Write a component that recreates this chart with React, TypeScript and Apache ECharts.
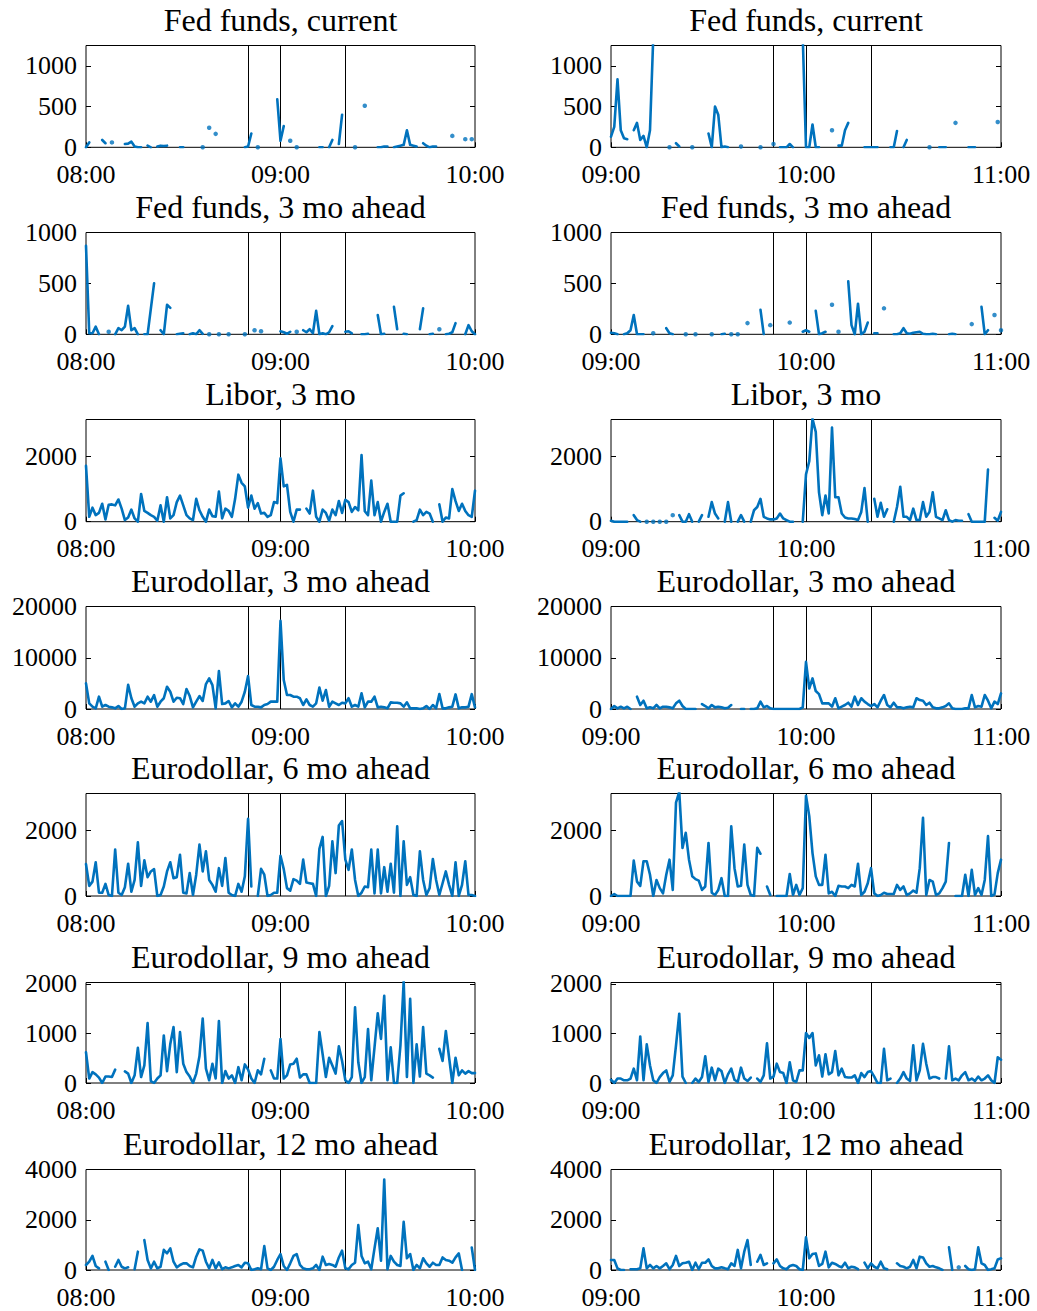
import { useEffect, useRef } from 'react';
import * as echarts from 'echarts';

// Trading volume per minute around announcement times, two windows per contract.
const _ = null;

const TITLES = [
  'Fed funds, current',
  'Fed funds, 3 mo ahead',
  'Libor, 3 mo',
  'Eurodollar, 3 mo ahead',
  'Eurodollar, 6 mo ahead',
  'Eurodollar, 9 mo ahead',
  'Eurodollar, 12 mo ahead',
];
const Y_MAX = [1250, 1000, 3130, 20000, 3130, 2030, 4000];
const Y_STEP = [500, 500, 2000, 10000, 2000, 1000, 2000];
const START_HOURS = [8, 9];
const EVENT_MINUTES = [50, 60, 80];

// minute 0..120 after the window start
const fedCurrentEarly = [
  0, 60, _, _, _, 90, 50, _, 60, _,
  _, _, 40, 45, 70, 10, 0, 0, _, 20,
  0, _, 10, 20, 15, 20, _, _, _, 0,
  0, _, _, _, _, _, 0, _, 240, _,
  165, _, _, _, _, _, _, _, _, 0,
  10, 170, _, 0, _, _, _, _, _, 590,
  80, 260, _, 80, _, 0, _, _, _, _,
  _, _, 0, 0, _, 0, 90, _, 40, 400,
  _, _, _, 0, _, _, 510, _, _, _,
  0, 0, 10, 10, _, 0, 10, 20, 30, 210,
  30, 20, 10, _, 50, 20, 0, 10, 10, _,
  _, _, _, 140, _, _, _, 100, _, 100,
  _,
];
const fedCurrentLate = [
  130, 250, 835, 210, 110, 100, _, 210, 300, 90,
  140, 0, 210, 1350, _, _, _, _, 0, _,
  50, 10, _, _, _, 0, _, _, _, _,
  170, 0, 500, 400, 0, 10, 0, _, _, _,
  10, _, _, _, _, _, 0, _, _, _,
  40, _, 0, 0, 0, 40, 0, _, _, 1350,
  0, 0, 280, 0, 0, _, _, _, 210, _,
  20, 20, 210, 300, _, _, _, _, 0, 0,
  0, 0, 0, _, _, _, 0, 0, 200, _,
  0, 90, _, _, _, _, _, _, 0, _,
  _, 0, 0, 0, _, _, 300, _, _, _,
  0, 0, 0, _, _, _, _, _, _, 310,
  _,
];
const fed3mEarly = [
  870, 10, 10, 75, 0, _, _, 25, _, 0,
  60, 40, 75, 280, 40, 60, 0, _, 0, 0,
  250, 500, _, 40, 0, 290, 260, _, 0, 5,
  10, _, 0, 10, 0, 40, 5, _, 0, _,
  _, 0, _, _, 0, _, _, _, _, 0,
  _, _, 40, _, 30, _, _, _, _, _,
  30, 20, 5, 25, _, 25, _, 40, 20, 50,
  10, 230, 0, 10, 0, 20, 80, _, _, _,
  25, 30, 10, _, _, 0, 0, 5, _, _,
  190, 0, 5, _, _, 270, 50, _, 5, 0,
  _, _, _, 50, 255, _, 0, 5, _, 50,
  _, 0, 5, 20, 110, _, _, 0, 90, 30,
  0,
];
const fed3mLate = [
  15, 10, 0, _, 0, 10, 40, 190, 0, 0,
  0, _, _, 10, _, _, _, 60, 10, 0,
  _, _, _, 0, _, _, 0, _, _, _,
  _, 0, _, _, 0, 5, _, 0, _, 0,
  _, _, 110, _, _, _, 240, 0, _, 90,
  _, _, _, _, _, 115, _, _, _, 25,
  40, 25, _, 230, 0, 10, 25, _, 290, _,
  25, _, _, 520, 90, 0, 300, 0, 25, 115,
  _, 10, 10, _, 255, _, _, 0, 0, 10,
  60, 10, 5, 15, 20, 25, 5, 0, 0, 5,
  0, _, _, _, 0, 5, 0, _, _, _,
  _, 100, _, _, 270, 0, 40, _, 190, _,
  40,
];
const libor3mEarly = [
  1710, 150, 430, 200, 270, 550, 70, 520, 530, 500,
  680, 400, 50, 130, 370, 100, 0, 850, 330, 270,
  200, 150, 30, 500, 0, 750, 100, 200, 600, 800,
  500, 200, 100, 50, 700, 350, 150, 0, 370, 170,
  150, 920, 100, 400, 330, 150, 700, 1440, 1190, 1080,
  430, 800, 400, 570, 250, 270, 150, 200, 600, 570,
  1940, 1080, 1130, 300, 0, 370, 370, _, 400, 250,
  950, 150, 0, 370, 270, 30, 370, 200, 630, 270,
  670, 600, 300, 450, 350, 2040, 320, 200, 1260, 200,
  600, 0, 300, 550, 0, 0, 0, 800, 870, _,
  _, 0, 50, 370, 200, 300, 250, 0, _, 530,
  0, 130, 100, 1000, 630, 330, 550, 330, 200, 150,
  950,
];
const libor3mLate = [
  30, 0, 0, 0, 0, 0, _, 200, 50, 0,
  _, 0, _, 0, _, 0, _, 0, _, 200,
  _, 200, 0, 0, 230, 0, _, 0, 200, _,
  150, 600, 250, 100, _, 0, 600, 0, _, 0,
  200, 0, _, 0, 350, 450, 700, 150, 100, 70,
  70, 100, 250, 100, 50, 0, 0, _, _, 0,
  1450, 1850, 3150, 2750, 900, 200, 800, 250, 2880, 750,
  750, 250, 130, 100, 100, 80, 50, 300, 1030, 0,
  _, 700, 150, 580, 150, 380, _, 0, 450, 1070,
  150, 150, 50, 400, 50, 50, 600, 150, 300, 900,
  150, 100, 50, 350, 50, 0, 50, 30, 30, _,
  230, 0, 0, 0, 0, 0, 1600, _, 120, 30,
  300,
];
const euro3mEarly = [
  5000, 1100, 450, 130, 2400, 450, 780, 450, 320, 130,
  580, 0, 130, 4700, 2100, 450, 1100, 1430, 1100, 2400,
  1430, 2700, 450, 1430, 2100, 4350, 3370, 1430, 2200, 2100,
  970, 3900, 2530, 320, 1430, 2530, 1560, 4870, 5970, 4670,
  130, 7400, 970, 1100, 1560, 320, 1100, 450, 1430, 3370,
  6430, 780, 450, 450, 320, 780, 970, 1430, 1430, 1430,
  17200, 5650, 2730, 2730, 2400, 2400, 2100, 780, 1880, 780,
  450, 1100, 4200, 1620, 3700, 450, 1430, 1100, 780, 1230,
  1100, 2100, 450, 780, 450, 3050, 320, 1430, 1430, 2400,
  320, 450, 320, 130, 1300, 1230, 1230, 1100, 450, 1300,
  130, 130, 130, 0, 130, 580, 0, 780, 130, 2900,
  130, 130, 320, 450, 2850, 130, 320, 320, 450, 2900,
  320,
];
const euro3mLate = [
  0, 580, 130, 450, 130, 450, 0, _, 2400, 780,
  1620, 130, 320, 130, 780, 130, 450, 450, 320, 130,
  1100, 1620, 580, 0, 0, 0, 0, _, 970, 580,
  130, 780, 320, 450, 320, 130, 260, 780, _, _,
  0, 0, _, 0, 0, 130, 1430, 320, 580, 130,
  0, 0, 0, 0, 0, 0, 0, 0, 0, 320,
  9200, 4000, 5970, 3500, 2900, 1100, 1100, 1100, 450, 2100,
  130, 450, 780, 1230, 450, 2400, 780, 2100, 1430, 970,
  580, 970, 320, 1620, 2730, 780, 320, 1230, 320, 320,
  130, 320, 450, 320, 2100, 1750, 1620, 780, 1230, 320,
  130, 130, 320, 580, 1100, 130, 0, 0, 0, 130,
  130, 2730, 320, 580, 450, 2730, 1620, 130, 1430, 970,
  3050,
];
const euro6mEarly = [
  975, 310, 440, 1030, 100, 100, 370, 30, 0, 1420,
  100, 30, 270, 985, 130, 490, 1640, 310, 1090, 575,
  750, 820, 0, 30, 290, 750, 1030, 545, 575, 1260,
  100, 80, 700, 30, 650, 1570, 750, 1365, 490, 340,
  130, 850, 310, 1160, 100, 30, 0, 370, 130, 600,
  2360, 290, _, 0, 830, 650, 0, 30, 100, 100,
  1230, 820, 240, 165, 515, 470, 370, 1110, 410, 390,
  370, 0, 1440, 1805, 0, 310, 1670, 700, 2150, 2290,
  1110, 800, 1420, 490, 0, 100, 290, 270, 1420, 80,
  1420, 80, 880, 130, 985, 100, 2130, 0, 1670, 340,
  575, 30, 0, 1365, 490, 30, 240, 1130, 490, 30,
  390, 750, 340, 0, 1030, 0, 340, 1060, 30, 30,
  0,
];
const euro6mLate = [
  0, 60, 0, 0, 0, 0, 0, 1080, 440, 310,
  1060, 1060, 650, 0, 490, 240, 80, 650, 1110, 185,
  2850, 3180, 1470, 1930, 1110, 600, 515, 470, 185, 290,
  1620, 100, 30, 185, 545, 0, 0, 2130, 850, 290,
  310, 1570, 340, 30, 0, 1470, 1290, _, 290, 30,
  _, 0, 0, 0, 0, 670, 30, 340, 30, 240,
  3060, 2440, 1310, 600, 340, 340, 1260, 80, 130, 0,
  310, 290, 290, 240, 340, 290, 985, 30, 130, 390,
  850, 80, 0, 30, 100, 60, 60, 60, 340, 185,
  290, 30, 80, 165, 100, 850, 2390, 30, 490, 440,
  30, 80, 240, 440, 1620, _, 0, 0, 0, 650,
  0, 800, 30, 240, 30, 490, 1830, 0, 50, 700,
  1110,
];
const euro9mEarly = [
  620, 90, 220, 175, 110, 0, 130, 130, 120, 270,
  _, _, 235, 190, 0, 155, 710, 120, 355, 1210,
  40, 0, 90, 155, 960, 240, 790, 1130, 220, 1030,
  390, 220, 130, 0, 190, 540, 1300, 290, 55, 390,
  90, 1250, 0, 240, 90, 155, 0, 320, 55, 375,
  270, 90, 0, 255, 175, 490, _, 255, 90, 90,
  890, 90, 155, 375, 390, 490, 110, 175, 175, 0,
  0, 0, 1030, 580, 120, 510, 355, 190, 740, 445,
  55, 0, 120, 1530, 420, 0, 120, 1090, 55, 720,
  1410, 890, 1760, 55, 720, 0, 0, 760, 2050, 120,
  1700, 0, 780, 130, 1130, 190, 155, 110, _, 690,
  445, 1050, 520, 0, 510, 155, 255, 190, 240, 200,
  200,
];
const euro9mLate = [
  65, 0, 90, 90, 55, 55, 90, 290, 55, 940,
  55, 780, 355, 55, 0, 120, 200, 255, 20, 155,
  760, 1400, 130, 0, _, 0, 90, 20, 120, 540,
  20, 310, 55, 290, 240, 0, 175, 290, 65, 20,
  310, 90, 40, 110, _, 90, 20, 155, 800, 90,
  130, 390, 220, 200, 0, 420, 55, 20, 255, 255,
  1010, 910, 1010, 355, 560, 130, 580, 175, 220, 645,
  155, 290, 120, 110, 110, 155, 0, 200, 120, 220,
  240, 130, 0, 0, 690, 55, 90, _, 0, 90,
  220, 90, 40, 760, 55, 255, 790, 390, 90, 120,
  120, 90, _, 90, 740, 55, 90, 55, 155, 220,
  55, 90, 40, 130, 55, 90, 155, 55, 0, 520,
  470,
];
const euro12mEarly = [
  200, 330, 560, 160, 65, _, 330, 0, _, 130,
  400, 130, 65, 105, _, 30, 730, _, 1190, 400,
  65, 330, 65, 130, 800, 660, 860, 330, 105, 200,
  265, 265, 160, 105, 530, 820, 770, 330, 65, 400,
  65, 305, 30, 105, 65, 105, 160, 200, 105, 290,
  265, 0, 30, 65, 30, 950, 65, 0, 130, 400,
  635, 160, 0, 265, 560, 635, 200, 65, 30, 30,
  65, 200, 0, 530, 200, 240, 200, 130, 500, 770,
  65, 30, 200, 290, 1790, 560, 265, 330, 30, 860,
  1660, 370, 3600, 30, 560, 330, 200, 160, 1920, 465,
  635, 0, 200, 65, 465, 265, 130, 290, 200, 200,
  500, 400, 370, 290, 500, 660, 0, _, _, 890,
  0,
];
const euro12mLate = [
  400, 400, 65, 0, 0, _, 30, 30, 30, 65,
  860, 65, 200, 65, 160, 65, 160, 265, 30, 200,
  560, 160, 265, 290, 330, 0, 290, 30, 290, 290,
  420, 160, 65, 65, 105, 65, 30, 265, 160, 800,
  65, 730, 1190, 200, _, 330, 600, 200, 265, _,
  265, 420, 160, 65, 30, 160, 200, 160, 30, 0,
  1300, 465, 635, 660, 160, 240, 730, 105, 290, 240,
  160, 105, 290, 65, 130, 105, 30, _, 290, 65,
  265, 130, 65, 330, 65, 30, _, _, 265, 160,
  130, 65, 130, 400, 65, 530, 500, 265, 130, 160,
  105, 65, 0, _, 900, 0, _, 105, _, 160,
  30, 0, 30, 900, 265, 200, 0, 30, 65, 420,
  465,
];

const SERIES = [
  [fedCurrentEarly, fedCurrentLate],
  [fed3mEarly, fed3mLate],
  [libor3mEarly, libor3mLate],
  [euro3mEarly, euro3mLate],
  [euro6mEarly, euro6mLate],
  [euro9mEarly, euro9mLate],
  [euro12mEarly, euro12mLate],
];

// layout (px)
const ROW_TOP = [45.5, 232.5, 419.5, 606.5, 793.5, 982.5, 1169.5];
const ROW_BOTTOM = [147.3, 334.3, 521.7, 709, 896, 1083, 1270];
const COL_LEFT = [86, 611];
const COL_WIDTH = [389, 390];

const LINE_COLOR = '#0072BD';
const FONT = 'Liberation Serif, Times New Roman, serif';

function clockLabel(startHour: number, minutes: number): string {
  const h = startHour + Math.floor(minutes / 60);
  const m = Math.round(minutes % 60);
  return `${String(h).padStart(2, '0')}:${String(m).padStart(2, '0')}`;
}

function buildOption() {
  const grid: any[] = [];
  const xAxis: any[] = [];
  const yAxis: any[] = [];
  const series: any[] = [];
  const graphic: any[] = [];

  SERIES.forEach((pair, r) => {
    pair.forEach((values, c) => {
      const idx = r * 2 + c;
      const step = Y_STEP[r];
      grid.push({
        left: COL_LEFT[c],
        width: COL_WIDTH[c],
        top: ROW_TOP[r],
        height: ROW_BOTTOM[r] - ROW_TOP[r],
        show: true,
        borderColor: '#000',
        borderWidth: 1,
        backgroundColor: 'transparent',
      });
      xAxis.push({
        gridIndex: idx,
        type: 'value',
        min: 0,
        max: 120,
        interval: 60,
        axisLine: { show: false },
        axisTick: { show: true, inside: true, length: 5, lineStyle: { color: '#000' } },
        splitLine: { show: false },
        axisLabel: {
          formatter: (v: number) => clockLabel(START_HOURS[c], v),
          fontFamily: FONT,
          fontSize: 26,
          color: '#000',
          margin: 14,
        },
      });
      const yBase = {
        gridIndex: idx,
        type: 'value',
        min: 0,
        max: Y_MAX[r],
        interval: step,
        axisLine: { show: false },
        axisTick: { show: true, inside: true, length: 5, lineStyle: { color: '#000' } },
        splitLine: { show: false },
      };
      yAxis.push({
        ...yBase,
        position: 'left',
        axisLabel: {
          formatter: (v: number) => (v % step === 0 ? String(v) : ''),
          fontFamily: FONT,
          fontSize: 26,
          color: '#000',
          margin: 9,
        },
      });
      yAxis.push({ ...yBase, position: 'right', axisLabel: { show: false } });

      const points = values.map((v, i) => [i, v]);
      const isolated = values
        .map((v, i) => [i, v] as [number, number | null])
        .filter(([i, v]) => v !== null && (i === 0 || values[i - 1] === null) && (i === values.length - 1 || values[i + 1] === null));

      series.push({
        type: 'line',
        xAxisIndex: idx,
        yAxisIndex: idx * 2,
        data: points,
        showSymbol: false,
        symbol: 'none',
        connectNulls: false,
        clip: true,
        lineStyle: { color: LINE_COLOR, width: 2.6, cap: 'round', join: 'round' },
        z: 3,
        markLine: {
          silent: true,
          symbol: ['none', 'none'],
          label: { show: false },
          lineStyle: { color: '#000', width: 1, type: 'solid' },
          data: EVENT_MINUTES.map((m) => ({ xAxis: m })),
          z: 2,
        },
      });
      series.push({
        type: 'scatter',
        xAxisIndex: idx,
        yAxisIndex: idx * 2,
        data: isolated,
        symbol: 'circle',
        symbolSize: 4.5,
        clip: true,
        itemStyle: { color: LINE_COLOR },
        z: 3,
      });

      graphic.push({
        type: 'text',
        silent: true,
        style: {
          text: TITLES[r],
          x: COL_LEFT[c] + COL_WIDTH[c] / 2,
          y: ROW_TOP[r] - 25.5,
          textAlign: 'center',
          textVerticalAlign: 'middle',
          fontFamily: FONT,
          fontSize: 32,
          fill: '#000',
        },
      });
    });
  });

  return {
    animation: false,
    backgroundColor: '#fff',
    textStyle: { fontFamily: FONT },
    grid,
    xAxis,
    yAxis,
    series,
    graphic,
  };
}

export default function App() {
  const ref = useRef<HTMLDivElement>(null);
  useEffect(() => {
    if (!ref.current) return;
    const chart = echarts.init(ref.current, undefined, { renderer: 'svg' });
    chart.setOption(buildOption() as any);
    return () => chart.dispose();
  }, []);
  return (
    <div
      ref={ref}
      style={{ position: 'absolute', left: 0, top: 0, width: 1037, height: 1311, background: '#fff' }}
    />
  );
}
